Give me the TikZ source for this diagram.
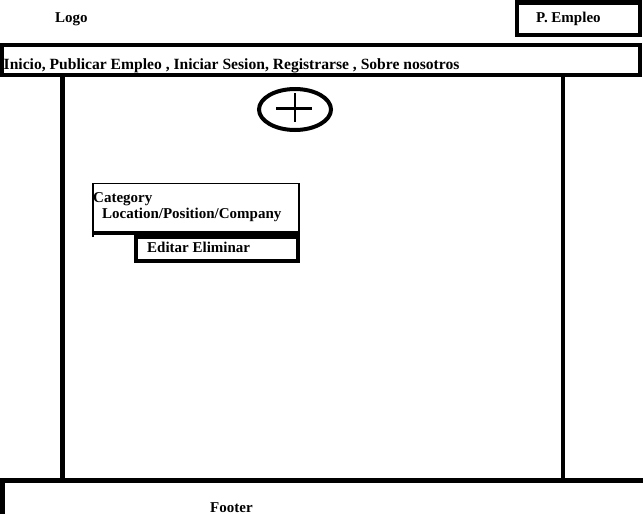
\documentclass[tikz,border=0pt]{standalone}
\usepackage{fontspec}
\setmainfont{Liberation Serif}
\begin{document}
\begin{tikzpicture}[x=1pt,y=-1pt,
  heavy/.style={line width=4.5pt, line join=miter},
  medium/.style={line width=4pt},
  slim/.style={line width=1.3pt},
  txt/.style={inner sep=0pt, anchor=base west,
    font=\bfseries\fontsize{15}{17}\selectfont},
  navtxt/.style={txt, font=\bfseries\fontsize{15.6}{18}\selectfont}]
\useasboundingbox (0,0) rectangle (643,514);

% header: logo and the "P. Empleo" button
\node[txt] (logo) at (55,22) {Logo};
\draw[heavy] (517,2.5) rectangle (640,35);
\node[txt] (pempleo) at (536,22) {P. Empleo};

% navigation bar
\draw[heavy] (2,45) rectangle (640,75);
\node[navtxt] (nav) at (3.5,69) {Inicio, Publicar Empleo , Iniciar Sesion, Registrarse , Sobre nosotros};

% main content column
\draw[heavy] (62.5,75) -- (62.5,480.5);
\draw[heavy] (563,75) -- (563,480.5);

% "add" button
\draw[medium] (295,109.5) ellipse [x radius=36, y radius=20.5];
\draw[line width=2.2pt] (276,108.5) -- (312,108.5);
\draw[line width=2.2pt] (295,93) -- (295,122);

% job card
\draw[slim] (93,237) -- (93,183.5) -- (299,183.5) -- (299,232);
\draw[medium] (93,232.5) -- (300,232.5);
\node[txt] (cat) at (93,202) {Category};
\node[txt] (loc) at (102,218.5) {Location/Position/Company};
\draw[medium] (136,236.5) rectangle (298,260.5);
\node[txt] (edit) at (147,252.5) {Editar Eliminar};

% footer
\draw[heavy] (645,480.5) -- (2.5,480.5) -- (2.5,516);
\node[txt] (footer) at (210,512) {Footer};
\end{tikzpicture}
\end{document}
